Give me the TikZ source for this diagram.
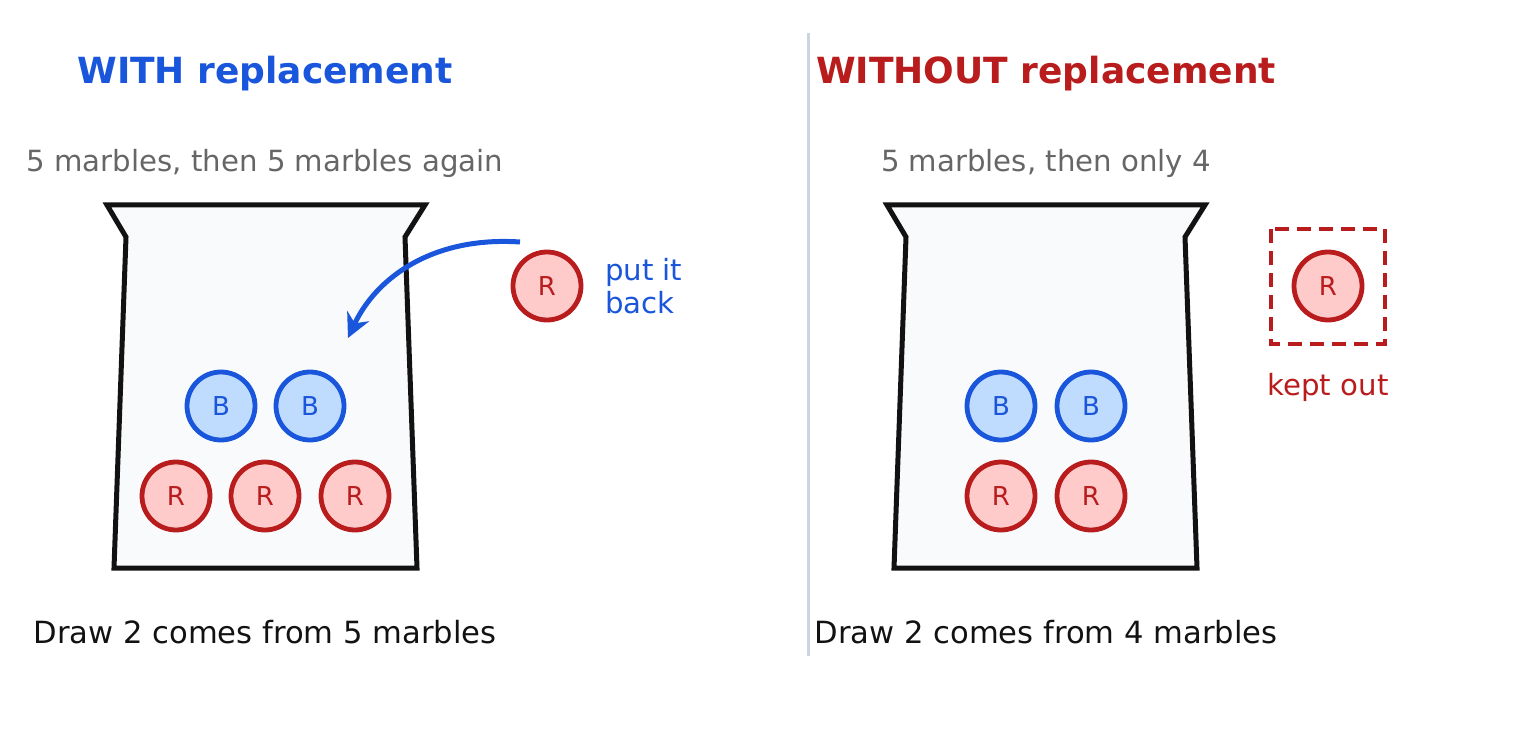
\documentclass[tikz,border=0pt]{standalone}
\usepackage{fontspec}
\setmainfont{DejaVu Sans}
\usetikzlibrary{arrows.meta}
\definecolor{bluec}{HTML}{1A56DB}
\definecolor{bluef}{HTML}{BFDBFE}
\definecolor{redc}{HTML}{B91C1C}
\definecolor{redf}{HTML}{FECACA}
\definecolor{greyt}{HTML}{666666}
\definecolor{jarf}{HTML}{F8FAFC}
\tikzset{
  marble/.style={circle,draw,line width=2.4pt,minimum size=34pt,inner sep=0pt,font=\fontsize{13}{15}\selectfont},
  blue marble/.style={marble,draw=bluec,fill=bluef,text=bluec},
  red marble/.style={marble,draw=redc,fill=redf,text=redc},
  jar/.style={draw=black!93,fill=jarf,line width=2.5pt,line join=miter},
  title/.style={font=\bfseries\fontsize{18}{21}\selectfont},
  sub/.style={text=greyt,font=\fontsize{14.6}{17}\selectfont},
  foot/.style={text=black!93,font=\fontsize{15.3}{18}\selectfont},
}
\begin{document}
\begin{tikzpicture}[x=0.5pt,y=-0.5pt]
  \path[use as bounding box] (0,0) rectangle (1514,748);
  \draw[color={rgb,255:red,203;green,213;blue,225},line width=1.5pt] (808,33) -- (808,656);

  % left side
  \node[title,text=bluec] (lt) at (265,74) {WITH replacement};
  \node[sub] (ls) at (265,163) {5 marbles, then 5 marbles again};
  \draw[jar] (107,205) -- (425,205) -- (405,237) -- (417,568) -- (114,568) -- (126,237) -- cycle;
  \node[blue marble] (lb1) at (221,406) {B};
  \node[blue marble] (lb2) at (310,406) {B};
  \node[red marble] (lr1) at (176,496) {R};
  \node[red marble] (lr2) at (265,496) {R};
  \node[red marble] (lr3) at (355,496) {R};
  \node[red marble] (lout) at (547,286) {R};
  \node[text=bluec,align=left,anchor=west,font=\fontsize{14.6}{16.5}\selectfont] (back) at (598,286) {put it\\back};
  \coordinate (astart) at (520,242);
  \coordinate (aend) at (348,338);
  \draw[bluec,line width=2.5pt,-{Stealth[length=12pt,width=12pt]}] (astart) .. controls (430,236) and (375,280) .. (aend);
  \node[foot] (lf) at (265,632) {Draw 2 comes from 5 marbles};

  % right side
  \node[title,text=redc] (rt) at (1046,74) {WITHOUT replacement};
  \node[sub] (rs) at (1046,163) {5 marbles, then only 4};
  \draw[jar] (887,205) -- (1205,205) -- (1185,237) -- (1197,568) -- (894,568) -- (906,237) -- cycle;
  \node[blue marble] (rb1) at (1001,406) {B};
  \node[blue marble] (rb2) at (1091,406) {B};
  \node[red marble] (rr1) at (1001,496) {R};
  \node[red marble] (rr2) at (1091,496) {R};
  \draw[redc,line width=1.8pt,dash pattern=on 7pt off 4pt] (1271,229) rectangle (1385,344);
  \node[red marble] (rout) at (1328,286) {R};
  \node[text=redc,font=\fontsize{14.6}{17}\selectfont] (kept) at (1328,387) {kept out};
  \node[foot] (rf) at (1046,632) {Draw 2 comes from 4 marbles};
\end{tikzpicture}
\end{document}
